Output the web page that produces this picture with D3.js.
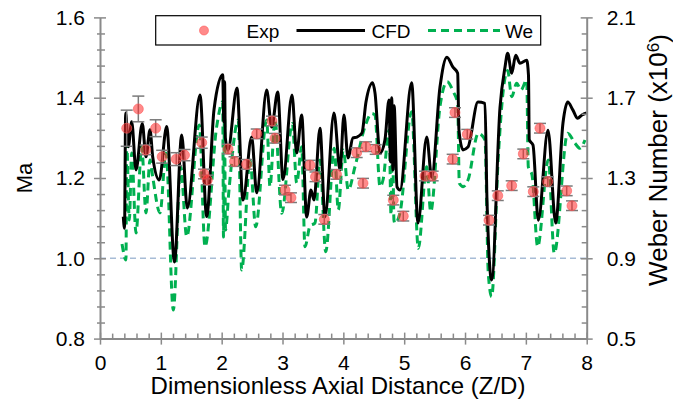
<!DOCTYPE html>
<html>
<head>
<meta charset="utf-8">
<script src="https://cdn.jsdelivr.net/npm/d3@7"></script>
<style>
  body { margin: 0; background: #fff; }
  text { font-family: "Liberation Sans", Arial, sans-serif; fill: #000; }
</style>
</head>
<body>
<svg id="chart" width="673" height="406"></svg>
<script>
// CFD Mach number along the axis
const cfdZ = [0.383,0.403,0.422,0.465,0.521,0.592,0.695,0.756,0.822,0.866,0.975,1.096,1.224,1.343,1.435,1.644,1.753,1.874,2.017,2.035,2.048,2.060,2.104,2.252,2.350,2.493,2.576,2.740,2.822,2.921,3.008,3.156,3.233,3.315,3.397,3.468,3.517,3.616,3.698,3.846,3.945,4.010,4.076,4.158,4.224,4.306,4.372,4.482,4.520,4.602,4.684,4.750,4.775,4.795,4.815,4.835,4.882,4.931,5.123,5.227,5.370,5.452,5.588,5.703,5.802,5.879,5.900,5.966,6.048,6.213,6.328,6.361,6.438,6.575,6.657,6.701,6.767,6.833,6.903,7.014,7.043,7.056,7.117,7.204,7.364,7.490,7.610,7.687,7.774,7.851,7.922,8.0];
const cfdMa = [1.104,1.075,1.362,1.278,1.340,1.220,1.336,1.253,1.320,1.253,1.195,1.328,0.991,1.307,1.125,1.407,1.104,1.370,1.457,1.340,1.440,1.300,1.270,1.424,1.145,1.302,1.163,1.419,1.327,1.414,1.196,1.407,1.262,1.357,1.103,1.170,1.145,1.324,1.103,1.362,1.220,1.357,1.250,1.300,1.302,1.312,1.389,1.437,1.412,1.262,1.295,1.394,1.240,1.400,1.220,1.380,1.178,1.170,1.437,1.088,1.302,1.202,1.426,1.501,1.476,1.461,1.320,1.270,1.277,1.389,1.386,1.145,0.946,1.376,1.476,1.511,1.461,1.506,1.486,1.493,1.456,1.295,1.282,1.095,1.319,1.088,1.337,1.389,1.369,1.349,1.357,1.362];

// Weber number (x10^6), right axis
const weZ = [0.362,0.427,0.439,0.482,0.521,0.592,0.685,0.756,0.822,0.866,0.986,1.085,1.205,1.326,1.425,1.632,1.726,1.918,2.017,2.030,2.046,2.063,2.120,2.273,2.329,2.466,2.559,2.740,2.794,2.876,2.987,3.161,3.233,3.315,3.369,3.452,3.534,3.616,3.710,3.851,3.917,3.999,4.081,4.191,4.356,4.466,4.520,4.602,4.652,4.755,4.783,4.808,4.832,4.849,4.931,5.123,5.232,5.370,5.436,5.588,5.708,5.807,5.879,5.906,5.971,6.049,6.218,6.328,6.382,6.438,6.547,6.629,6.701,6.767,6.849,6.920,7.014,7.040,7.101,7.194,7.369,7.467,7.687,7.807,7.890,7.972];
const weVal = [0.971,0.892,1.473,1.091,1.425,1.026,1.456,1.126,1.390,1.306,1.126,1.425,0.642,1.356,1.008,1.564,0.958,1.556,1.680,1.006,1.639,1.041,1.240,1.589,0.842,1.390,1.057,1.589,1.257,1.589,1.124,1.572,1.275,1.456,0.958,1.061,1.076,1.390,0.933,1.448,1.141,1.439,1.240,1.356,1.556,1.622,1.614,1.257,1.290,1.539,1.116,1.514,1.091,1.074,1.126,1.630,0.950,1.356,1.132,1.655,1.780,1.730,1.672,1.274,1.257,1.290,1.523,1.489,0.827,0.709,1.406,1.738,1.836,1.705,1.772,1.738,1.788,1.356,1.315,0.958,1.390,0.925,1.523,1.473,1.448,1.489];

// Experiment
const expZ = [0.439,0.630,0.751,0.915,1.022,1.254,1.389,1.672,1.709,1.764,2.104,2.211,2.411,2.576,2.827,2.876,3.041,3.139,3.452,3.542,3.687,3.887,4.219,4.323,4.372,4.532,4.821,4.985,5.342,5.468,5.797,5.835,6.037,6.394,6.538,6.767,6.958,7.122,7.232,7.359,7.671,7.758];
const expMa = [1.324,1.372,1.270,1.324,1.253,1.247,1.257,1.288,1.210,1.195,1.272,1.241,1.234,1.310,1.342,1.299,1.170,1.151,1.232,1.203,1.097,1.209,1.263,1.187,1.278,1.271,1.145,1.105,1.205,1.205,1.247,1.363,1.309,1.095,1.156,1.181,1.260,1.166,1.324,1.191,1.168,1.131];
const expErr = [0.045,0.032,0.012,0.021,0.016,0.016,0.014,0.014,0.012,0.012,0.012,0.012,0.012,0.012,0.012,0.012,0.012,0.012,0.012,0.012,0.012,0.012,0.012,0.012,0.012,0.012,0.012,0.012,0.012,0.012,0.012,0.012,0.012,0.012,0.012,0.012,0.012,0.012,0.012,0.012,0.012,0.012];

// ticks
const xTicks = [0,1,2,3,4,5,6,7,8];
const maTicks = [0.8,1.0,1.2,1.4,1.6];
const weTicks = [0.5,0.9,1.3,1.7,2.1];
const refMa = 1.0;

const margin = { top: 17.4, left: 100, right: 86.3, bottom: 67.4 };
const width = 673 - margin.left - margin.right;
const height = 406 - margin.top - margin.bottom;
const axisColor = "#8a8a8a";

const svg = d3.select("#chart");
const g = svg.append("g").attr("transform", `translate(${margin.left},${margin.top})`);

const x = d3.scaleLinear().domain([0, 8]).range([0, width]);
const y = d3.scaleLinear().domain([0.8, 1.6]).range([height, 0]);
const yR = d3.scaleLinear().domain([0.5, 2.1]).range([height, 0]);

// minor tick values (5 intervals per major)
function minors(ticks) {
  const out = [];
  for (let i = 0; i < ticks.length - 1; i++) {
    const step = (ticks[i + 1] - ticks[i]) / 5;
    for (let k = 1; k < 5; k++) out.push(ticks[i] + k * step);
  }
  return out;
}

// reference line at Ma = 1
g.append("line")
  .attr("x1", 0).attr("x2", width)
  .attr("y1", y(refMa)).attr("y2", y(refMa))
  .attr("stroke", "#a7bcd6").attr("stroke-width", 1.5)
  .attr("stroke-dasharray", "6,4");

// Weber line
const weData = weZ.map((z, i) => ({ z, v: weVal[i] }));
g.append("path")
  .datum(weData)
  .attr("fill", "none")
  .attr("stroke", "#00b050")
  .attr("stroke-width", 3)
  .attr("stroke-dasharray", "8,5")
  .attr("d", d3.line().x(d => x(d.z)).y(d => yR(d.v)).curve(d3.curveMonotoneX));

// CFD line
const cfdData = cfdZ.map((z, i) => ({ z, v: cfdMa[i] }));
g.append("path")
  .datum(cfdData)
  .attr("fill", "none")
  .attr("stroke", "#000")
  .attr("stroke-width", 3)
  .attr("stroke-linejoin", "round")
  .attr("d", d3.line().x(d => x(d.z)).y(d => y(d.v)).curve(d3.curveMonotoneX));

// experiment with error bars
const expData = expZ.map((z, i) => ({ z, v: expMa[i], e: expErr[i] }));
const eb = g.append("g").attr("stroke", "#7a7a7a").attr("stroke-width", 1.5);
expData.forEach(d => {
  const cx = x(d.z), y1 = y(d.v + d.e), y2 = y(d.v - d.e);
  eb.append("line").attr("x1", cx).attr("x2", cx).attr("y1", y1).attr("y2", y2);
  eb.append("line").attr("x1", cx - 6).attr("x2", cx + 6).attr("y1", y1).attr("y2", y1);
  eb.append("line").attr("x1", cx - 6).attr("x2", cx + 6).attr("y1", y2).attr("y2", y2);
});
g.selectAll(".dot")
  .data(expData)
  .enter().append("circle")
  .attr("class", "dot")
  .attr("cx", d => x(d.z))
  .attr("cy", d => y(d.v))
  .attr("r", 5)
  .attr("fill", "#ff2a2a").attr("fill-opacity", 0.55)
  .attr("stroke", "#ff5a5a").attr("stroke-opacity", 0.6);

// axes
function styleAxis(sel) {
  sel.select(".domain").attr("stroke", axisColor).attr("stroke-width", 2);
  sel.selectAll(".tick line").attr("stroke", axisColor).attr("stroke-width", 1.5);
  sel.selectAll(".tick text").attr("font-size", 21).attr("font-family", "Liberation Sans, Arial, sans-serif").attr("fill", "#000");
}

// bottom
const gx = g.append("g").attr("transform", `translate(0,${height})`)
  .call(d3.axisBottom(x).tickValues(xTicks).tickSize(6).tickSizeOuter(0).tickPadding(10).tickFormat(d3.format("d")));
gx.selectAll(".tick line").attr("y1", -6);
styleAxis(gx);
const gxm = g.append("g").attr("transform", `translate(0,${height})`)
  .call(d3.axisBottom(x).tickValues(minors(xTicks)).tickSize(0).tickFormat(""));
gxm.select(".domain").remove();
gxm.selectAll(".tick line").attr("y1", -5).attr("y2", 0).attr("stroke", axisColor).attr("stroke-width", 1.5);

// left
const gy = g.append("g")
  .call(d3.axisLeft(y).tickValues(maTicks).tickSize(6).tickSizeOuter(0).tickPadding(9).tickFormat(d3.format(".1f")));
gy.selectAll(".tick line").attr("x1", 6);
styleAxis(gy);
const gym = g.append("g").call(d3.axisLeft(y).tickValues(minors(maTicks)).tickSize(3).tickFormat(""));
gym.select(".domain").remove();
gym.selectAll(".tick line").attr("x1", 5).attr("stroke", axisColor).attr("stroke-width", 1.5);

// right
const gr = g.append("g").attr("transform", `translate(${width},0)`)
  .call(d3.axisRight(yR).tickValues(weTicks).tickSize(6).tickSizeOuter(0).tickPadding(14).tickFormat(d3.format(".1f")));
gr.selectAll(".tick line").attr("x1", -6);
styleAxis(gr);
const grm = g.append("g").attr("transform", `translate(${width},0)`)
  .call(d3.axisRight(yR).tickValues(minors(weTicks)).tickSize(1).tickFormat(""));
grm.select(".domain").remove();
grm.selectAll(".tick line").attr("x1", -5).attr("stroke", axisColor).attr("stroke-width", 1.5);

// axis titles
svg.append("text")
  .attr("x", 338).attr("y", 394)
  .attr("text-anchor", "middle")
  .attr("font-size", 24)
  .text("Dimensionless Axial Distance (Z/D)");

svg.append("text")
  .attr("transform", "translate(32,178) rotate(-90)")
  .attr("text-anchor", "middle")
  .attr("font-size", 22)
  .text("Ma");

const rt = svg.append("text")
  .attr("transform", "translate(667,160) rotate(-90)")
  .attr("text-anchor", "middle")
  .attr("font-size", 26);
rt.append("tspan").text("Weber Number (x10");
rt.append("tspan").attr("dy", "-0.5em").attr("font-size", 17).text("6");
rt.append("tspan").attr("dy", "0.38em").text(")");

// legend
const lg = svg.append("g");
lg.append("rect")
  .attr("x", 155.7).attr("y", 15.7).attr("width", 385).attr("height", 29.3)
  .attr("fill", "#fff").attr("stroke", "#000").attr("stroke-width", 1.2);
lg.append("circle").attr("cx", 204).attr("cy", 30.5).attr("r", 4.5)
  .attr("fill", "#ff2a2a").attr("fill-opacity", 0.55)
  .attr("stroke", "#ff5a5a").attr("stroke-opacity", 0.6);
lg.append("text").attr("x", 246.5).attr("y", 37.5).attr("font-size", 19).text("Exp");
lg.append("line").attr("x1", 296.5).attr("x2", 365).attr("y1", 30.5).attr("y2", 30.5)
  .attr("stroke", "#000").attr("stroke-width", 3);
lg.append("text").attr("x", 371.5).attr("y", 37.5).attr("font-size", 19).text("CFD");
lg.append("line").attr("x1", 428).attr("x2", 500).attr("y1", 30.5).attr("y2", 30.5)
  .attr("stroke", "#00b050").attr("stroke-width", 3).attr("stroke-dasharray", "8,5");
lg.append("text").attr("x", 505).attr("y", 37.5).attr("font-size", 19).text("We");
</script>
</body>
</html>
